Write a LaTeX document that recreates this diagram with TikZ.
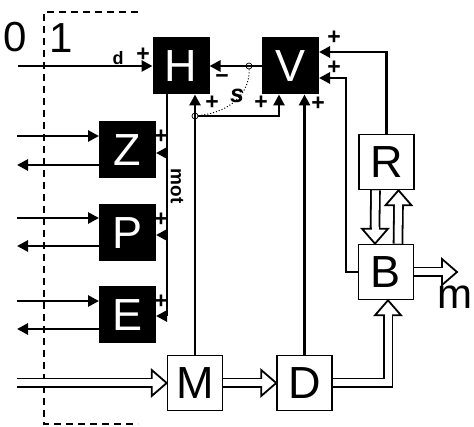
\documentclass[tikz,border=0pt]{standalone}
\usepackage{fontspec}
\setmainfont{Liberation Sans}
\usetikzlibrary{arrows.meta,calc,backgrounds}
\begin{document}
\begin{tikzpicture}[x=1pt,y=-1pt,
  blk/.style={fill=black, draw=black, line width=1pt, minimum width=56pt, minimum height=56pt, inner sep=0pt, text=white, font=\fontsize{45}{45}\selectfont},
  wbx/.style={fill=white, draw=black, line width=1.6pt, minimum width=55pt, minimum height=55pt, inner sep=0pt, font=\fontsize{45}{45}\selectfont},
  ln/.style={line width=2.8pt, line join=miter},
  arr/.style={ln, -{Triangle[length=11pt,width=11pt]}},
  rar/.style={ln, {Triangle[length=11pt,width=11pt]}-},
  hol/.style={draw=black, double=white, double distance=7pt, line width=1.8pt, line join=miter},
  sm/.style={font=\bfseries\fontsize{23}{23}\selectfont, inner sep=0pt},
  big/.style={font=\fontsize{42}{42}\selectfont, inner sep=0pt},
  sw/.style={circle, draw, line width=0.7pt, inner sep=0pt, minimum size=6pt},
  hhead/.pic={\draw[line width=1.8pt, fill=white, line join=miter] (0,0) -- (-15,13) -- (-15,-13) -- cycle; \fill[white] (-16.6,-3.5) rectangle (-13,3.5);}
]
\useasboundingbox (0,0) rectangle (474,427);

% blocks
\node[blk] (H) at (181,66) {H};
\node[blk] (V) at (290.5,66) {V};
\node[blk] (Z) at (127.5,150) {Z};
\node[blk] (P) at (127.5,233) {P};
\node[blk] (E) at (127.5,315) {E};
\node[wbx] (M) at (195,383) {M};
\node[wbx] (D) at (304.5,383) {D};
\node[wbx] (B) at (386,272) {B};
\node[wbx] (R) at (386.5,162) {R};

% labels
\node[big] (l0) at (15,37) {0};
\node[big] (l1) at (61,38) {1};
\node[big] (lm) at (455,297) {m};
\node[font=\bfseries\fontsize{18}{18}\selectfont, inner sep=0pt] (ld) at (118,58) {d};
\node[sm] (p1) at (143,55) {+};
\node[sm] (mi) at (222,79) {\textminus};
\node[sm] (p2) at (212,103) {+};
\node[sm] (p3) at (261,103) {+};
\node[sm] (p4) at (318,104) {+};
\node[sm] (p5) at (334,38) {+};
\node[sm] (p6) at (334,68) {+};
\node[sm] (p7) at (161,137) {+};
\node[sm] (p8) at (161,220) {+};
\node[sm] (p9) at (161,302) {+};
\node[font=\bfseries\itshape\fontsize{25}{25}\selectfont, inner sep=0pt] (ls) at (237,96) {s};
\node[font=\bfseries\fontsize{19}{19}\selectfont, inner sep=0pt, rotate=-90] (lmot) at (177,186) {mot};

% switch circles
\node[sw] (s1) at (249,66) {};
\node[sw] (s2) at (195,116) {};

% free ends
\coordinate (din) at (18,66);
\coordinate (zin) at (17,136);
\coordinate (zout) at (17,165);
\coordinate (pin) at (17,218);
\coordinate (pout) at (17,246);
\coordinate (ein) at (17,301);
\coordinate (eout) at (17,329);
\coordinate (motx) at (167,0);
\coordinate (mz) at (167,153);
\coordinate (mp) at (167,235);
\coordinate (me) at (167,316);
\coordinate (bx) at (346,0);
\coordinate (v1) at ($(V.east)+(0,-14)$);
\coordinate (v2) at ($(V.east)+(0,12)$);
\coordinate (mhin) at (17,383);
\coordinate (mout) at (457,272);

\begin{pgfonlayer}{background}
% dashed frame
\draw[line width=1.3pt, dash pattern=on 7pt off 5pt] (138,12) -- (44,12) -- (44,424) -- (138,424);

\draw[arr] (din) -- (H.west);
\draw[arr] (V.west) -- (H.east);
\draw[arr] (zin) -- (zin -| Z.west);
\draw[rar] (zout) -- (zout -| Z.west);
\draw[arr] (pin) -- (pin -| P.west);
\draw[rar] (pout) -- (pout -| P.west);
\draw[arr] (ein) -- (ein -| E.west);
\draw[rar] (eout) -- (eout -| E.west);

\draw[ln] (motx |- H.south) -- (me);
\draw[arr] (mz) -- (mz -| Z.east);
\draw[arr] (mp) -- (mp -| P.east);
\draw[arr] (me) -- (me -| E.east);

\draw[arr] (M.north) -- (M.north |- H.south);
\draw[arr] (s2) -| ($(V.south)+(-11.5,0)$);
\draw[arr] (D.north) -- (D.north |- V.south);
\draw[arr] (R.north) |- (v1);
\draw[arr] (B.west) -- (B.west -| bx) -- (bx |- v2) -- (v2);

% hollow arrows
\draw[hol] (mhin) -- ($(M.west)+(-15,0)$);
\pic at (M.west) {hhead};
\draw[hol] (M.east) -- ($(D.west)+(-15,0)$);
\pic at (D.west) {hhead};
\draw[hol] (D.east) -| ($(B.south)+(2,15)$);
\pic[rotate=90] at ($(B.south)+(2,0)$) {hhead};
\draw[hol] ($(R.south)+(-11,0)$) -- ($(B.north)+(-11,-15)$);
\pic[rotate=-90] at ($(B.north)+(-11,0)$) {hhead};
\draw[hol] ($(B.north)+(12,0)$) -- ($(R.south)+(12,15)$);
\pic[rotate=90] at ($(R.south)+(12,0)$) {hhead};
\draw[hol] (B.east) -- ($(mout)+(-15,0)$);
\pic at (mout) {hhead};
\end{pgfonlayer}

% dotted linkage
\draw[dotted, line width=1pt] (s1) .. controls (250,92) and (232,112) .. (s2);
\end{tikzpicture}
\end{document}
